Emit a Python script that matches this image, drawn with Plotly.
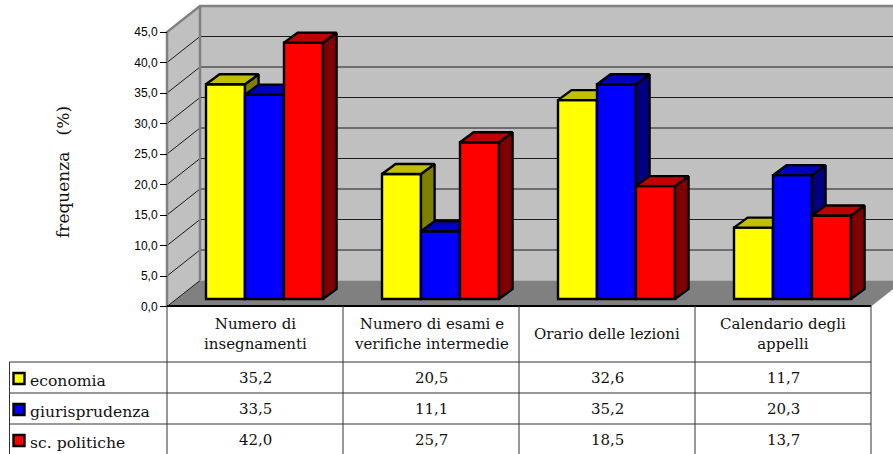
import plotly.graph_objects as go

categories = ["Numero di<br>insegnamenti", "Numero di esami e<br>verifiche intermedie",
              "Orario delle lezioni", "Calendario degli<br>appelli"]
series_names = ["economia", "giurisprudenza", "sc. politiche"]
economia = [35.2, 20.5, 32.6, 11.7]
giurisprudenza = [33.5, 11.1, 35.2, 20.3]
politiche = [42.0, 25.7, 18.5, 13.7]
y_ticks = [0, 5, 10, 15, 20, 25, 30, 35, 40, 45]
series_values = [economia, giurisprudenza, politiche]
front_colors = ["#FFFF00", "#0000FF", "#FF0000"]
top_colors = ["#C0C000", "#0000C0", "#C00000"]
side_colors = ["#808000", "#000080", "#800000"]

W, H = 893, 454
X0, CAT_W = 167.0, 176.0       # pixel of category 0, pixels per category
Y0, UNIT = 306.5, 6.1          # pixel of value 0, pixels per value unit
DEPTH_X, DEPTH_Y = 33 / CAT_W, 26 / UNIT
BAR_W = 39 / CAT_W
F_FRONT, F_BACK = 7.5 / 26, 17.5 / 26
YMAX = 45
NCAT = len(categories)

x_range = [-X0 / CAT_W, (W - X0) / CAT_W]
y_range = [(Y0 - H) / UNIT, Y0 / UNIT]
px = lambda x: x / W
py = lambda y: 1 - y / H


def proj(x, v, f):
    return x + f * DEPTH_X, v + f * DEPTH_Y


def poly(points):
    xs, ys = zip(*points)
    return list(xs) + [xs[0], None], list(ys) + [ys[0], None]


fig = go.Figure()

# walls and floor
RIGHT = NCAT
for pts, col in [
    ([proj(0, 0, 0), proj(0, 0, 1), proj(0, YMAX, 1), proj(0, YMAX, 0)], "#C0C0C0"),
    ([proj(0, 0, 1), proj(RIGHT, 0, 1), proj(RIGHT, YMAX, 1), proj(0, YMAX, 1)], "#C0C0C0"),
    ([proj(0, 0, 0), proj(RIGHT, 0, 0), proj(RIGHT, 0, 1), proj(0, 0, 1)], "#808080"),
]:
    xs, ys = poly(pts)
    fig.add_trace(go.Scatter(x=xs, y=ys, mode="lines", fill="toself", fillcolor=col,
                             line=dict(width=0), showlegend=False, hoverinfo="skip"))

# gridlines
gx, gy = [], []
for t in y_ticks[1:-1]:
    a, b, c = proj(0, t, 0), proj(0, t, 1), proj(RIGHT, t, 1)
    gx += [a[0], b[0], c[0], None]
    gy += [a[1], b[1], c[1], None]
a, b = proj(0, 0, 0), proj(0, 0, 1)
gx += [a[0], b[0], None]
gy += [a[1], b[1], None]
fig.add_trace(go.Scatter(x=gx, y=gy, mode="lines", line=dict(color="#1a1a1a", width=1),
                         showlegend=False, hoverinfo="skip"))

# wall borders
bx, by = [], []
for seq in [
    [proj(0, 0, 1), proj(0, YMAX, 1)],
    [proj(0, 0, 0), proj(0, YMAX, 0), proj(0, YMAX, 1), proj(RIGHT, YMAX, 1)],
]:
    bx += [p[0] for p in seq] + [None]
    by += [p[1] for p in seq] + [None]
fig.add_trace(go.Scatter(x=bx, y=by, mode="lines", line=dict(color="#808080", width=2.5),
                         showlegend=False, hoverinfo="skip"))

# bars, one overlaid subplot per series so that they stack left to right
for s, (name, vals) in enumerate(zip(series_names, series_values)):
    ax = str(s + 2)
    centers = [c + BAR_W * (s + 1) + BAR_W / 2 for c in range(NCAT)]
    base = F_FRONT * DEPTH_Y
    sx, sy, tx, ty = [], [], [], []
    for l, v in zip(centers, vals):
        x0, x1 = l - BAR_W / 2, l + BAR_W / 2
        dfx = (F_BACK - F_FRONT) * DEPTH_X * 1.07
        dfy = (F_BACK - F_FRONT) * DEPTH_Y
        top = v + base
        a, b = poly([(x1, base), (x1 + dfx, base + dfy), (x1 + dfx, top + dfy), (x1, top)])
        sx += a; sy += b
        a, b = poly([(x0, top), (x1, top), (x1 + dfx, top + dfy), (x0 + dfx, top + dfy)])
        tx += a; ty += b
    fig.add_trace(go.Bar(x=centers, y=vals, base=base, width=BAR_W, name=name,
                         marker=dict(color=front_colors[s], line=dict(color="#000000", width=2.4)),
                         xaxis="x" + ax, yaxis="y" + ax, showlegend=False))
    fig.add_trace(go.Scatter(x=sx, y=sy, mode="lines", fill="toself", fillcolor=side_colors[s],
                             line=dict(color="#000000", width=2.4), xaxis="x" + ax, yaxis="y" + ax,
                             showlegend=False, hoverinfo="skip"))
    fig.add_trace(go.Scatter(x=tx, y=ty, mode="lines", fill="toself", fillcolor=top_colors[s],
                             line=dict(color="#000000", width=2.4), xaxis="x" + ax, yaxis="y" + ax,
                             showlegend=False, hoverinfo="skip"))

hidden = dict(visible=False, fixedrange=True)
layout = dict(
    width=W, height=H, margin=dict(l=0, r=0, t=0, b=0), autosize=False,
    paper_bgcolor="#FFFFFF", plot_bgcolor="rgba(0,0,0,0)", barmode="overlay", showlegend=False,
    xaxis=dict(range=x_range, domain=[0, 1], **hidden),
    yaxis=dict(range=y_range, domain=[0, 1], fixedrange=True, showgrid=False, zeroline=False,
               anchor="free", position=X0 / W, side="left", ticks="outside", ticklen=7,
               tickcolor="#000000", tickvals=y_ticks,
               ticktext=[f"{t:.1f}".replace(".", ",") for t in y_ticks],
               tickfont=dict(family="Liberation Sans", size=12, color="#000000")),
)
for i in (2, 3, 4):
    layout[f"xaxis{i}"] = dict(range=x_range, overlaying="x", **hidden)
    layout[f"yaxis{i}"] = dict(range=y_range, overlaying="y", **hidden)

# data table
LINE = "#000000"
TX = [X0 + CAT_W * i for i in range(NCAT + 1)]
ROWS = [362, 393, 424]
shapes = [dict(type="line", xref="paper", yref="paper", x0=px(x0), x1=px(x1), y0=py(y0), y1=py(y1),
               line=dict(color=c, width=w))
          for x0, y0, x1, y1, c, w in
          [(X0, 306, TX[-1], 306, LINE, 2)]
          + [(x, 306, x, H, "#333333", 1) for x in TX]
          + [(9.5, r, TX[-1], r, "#333333", 1) for r in ROWS]
          + [(9.5, ROWS[0], 9.5, H, "#333333", 1)]]

SERIF = "DejaVu Serif"
FS = 15
ann = []
for i, c in enumerate(categories):
    ann.append(dict(x=px(X0 + CAT_W * (i + .5)), y=py(334), xref="paper", yref="paper", text=c,
                    showarrow=False, font=dict(family=SERIF, size=FS, color="#111111"), align="center",
                    xanchor="center", yanchor="middle"))
for r, (name, vals) in enumerate(zip(series_names, series_values)):
    yc = ROWS[r] + 17
    ann.append(dict(x=px(28), y=py(yc + 1.5), xref="paper", yref="paper", text=name, showarrow=False,
                    font=dict(family=SERIF, size=FS + 0.6, color="#111111"), xanchor="left", yanchor="middle"))
    for i, v in enumerate(vals):
        ann.append(dict(x=px(X0 + CAT_W * (i + .5)), y=py(yc - 1), xref="paper", yref="paper",
                        text=f"{v:.1f}".replace(".", ","), showarrow=False,
                        font=dict(family=SERIF, size=FS, color="#111111"),
                        xanchor="center", yanchor="middle"))
    shapes.append(dict(type="rect", xref="paper", yref="paper", x0=px(13.5), x1=px(24.5),
                       y0=py(yc - 6), y1=py(yc + 5), fillcolor=front_colors[r],
                       line=dict(color="#000000", width=2.4)))
ann.append(dict(x=px(63), y=py(172), xref="paper", yref="paper", text="frequenza&nbsp;&nbsp;&nbsp;(%)",
                textangle=-90, showarrow=False, font=dict(family=SERIF, size=FS + 2, color="#111111"),
                xanchor="center", yanchor="middle"))
layout["shapes"] = shapes
layout["annotations"] = ann
fig.update_layout(**layout)
fig.write_html("out.html", config=dict(displayModeBar=False),
               post_script="document.body.style.margin='0';document.documentElement.style.overflow='hidden';")
